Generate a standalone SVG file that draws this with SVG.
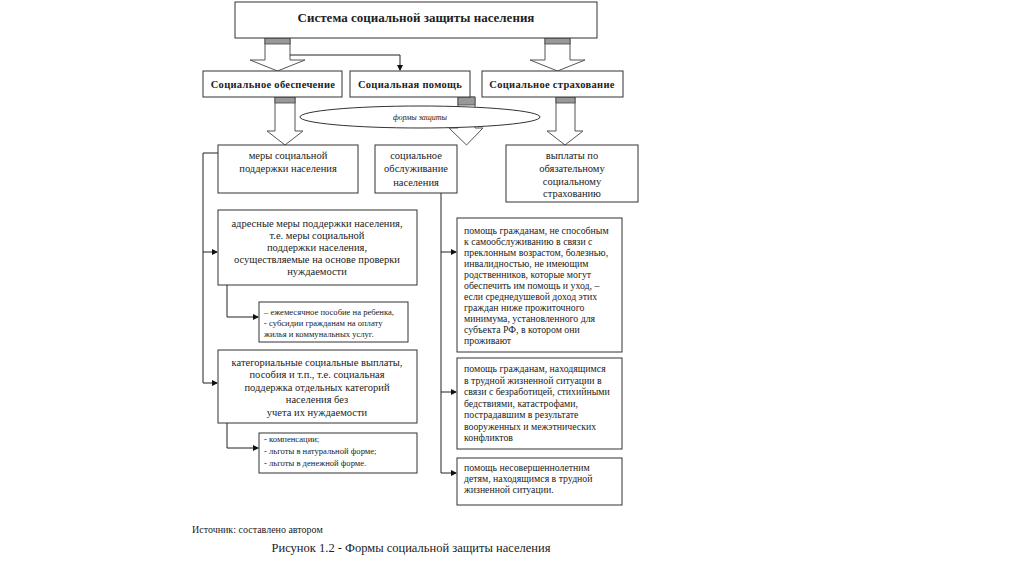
<svg xmlns="http://www.w3.org/2000/svg" width="1024" height="574" viewBox="0 0 1024 574">
<style>
.box{fill:#fff;stroke:#333;stroke-width:1}
.blk{fill:#fff;stroke:#555;stroke-width:1}
.band{fill:#999;stroke:#444;stroke-width:0.8}
.ln{fill:none;stroke:#222;stroke-width:1}
text{font-family:"Liberation Serif","Times New Roman",serif;fill:#222}
.t{font-size:13px;font-weight:bold;text-anchor:middle}
.h{font-size:10.5px;font-weight:bold;text-anchor:middle;letter-spacing:0.3px}
.m{font-size:10.5px;text-anchor:middle}
.s{font-size:8.6px}
.r{font-size:9.8px}
.e{font-size:8px;font-style:italic;text-anchor:middle}
</style>
<defs>
<marker id="ah" markerWidth="6" markerHeight="6" refX="5" refY="3" orient="auto" markerUnits="userSpaceOnUse">
<path d="M0,0 L6,3 L0,6 Z" fill="#111"/>
</marker>
</defs>
<rect width="1024" height="574" fill="#fff"/>

<g id="connectors">
<polygon class="blk" points="265,38 290,38 290,60 305,60 277.5,71 250,60 265,60"/>
<rect class="band" x="265" y="38" width="25" height="6"/>
<polygon class="blk" points="545,38 570,38 570,60 585,60 557.5,71 530,60 545,60"/>
<rect class="band" x="545" y="38" width="25" height="6"/>
<polyline class="ln" points="290,55 400,55 400,70" marker-end="url(#ah)"/>
<polygon class="blk" points="275,97 295,97 295,131 303,131 285,145 267,131 275,131"/>
<rect class="band" x="275" y="97" width="20" height="6"/>
<polygon class="blk" points="458,97 475,97 475,128 483,128 466.5,145 449,128 458,128"/>
<rect class="band" x="458" y="97" width="17" height="8"/>
<polygon class="blk" points="556,97 575,97 575,131 583,131 565,145 547,131 556,131"/>
<rect class="band" x="556" y="97" width="19" height="6"/>
<polyline class="ln" points="218,153 203,153 203,383 217,383" marker-end="url(#ah)"/>
<line class="ln" x1="203" y1="252" x2="217" y2="252" marker-end="url(#ah)"/>
<polyline class="ln" points="227,285 227,317 258,317" marker-end="url(#ah)"/>
<polyline class="ln" points="227,423 227,448 258,448" marker-end="url(#ah)"/>
<polyline class="ln" points="441,193 441,473 456,473" marker-end="url(#ah)"/>
<line class="ln" x1="441" y1="252" x2="456" y2="252" marker-end="url(#ah)"/>
<line class="ln" x1="441" y1="392" x2="456" y2="392" marker-end="url(#ah)"/>
</g>

<g id="system">
<rect class="box" x="235" y="2" width="362" height="36"/>
<text class="t" x="416" y="22">Система социальной защиты населения</text>
</g>
<g id="sotsobesp">
<rect class="box" x="203" y="71" width="139" height="26"/>
<text class="h" x="273" y="88">Социальное обеспечение</text>
</g>
<g id="sotspomosh">
<rect class="box" x="350" y="71" width="120" height="26"/>
<text class="h" x="410" y="88">Социальная помощь</text>
</g>
<g id="sotsstrakh">
<rect class="box" x="482" y="71" width="141" height="26"/>
<text class="h" x="552" y="88">Социальное страхование</text>
</g>
<g id="formy">
<ellipse cx="420" cy="117" rx="120" ry="11" fill="#fff" stroke="#333" stroke-width="1"/>
<text class="e" x="420" y="120">формы защиты</text>
</g>
<g id="mery">
<rect class="box" x="218" y="145" width="140" height="48"/>
<text class="m" x="288" y="159">меры социальной</text>
<text class="m" x="288" y="172">поддержки населения</text>
</g>
<g id="obsluzh">
<rect class="box" x="375" y="145" width="82" height="48"/>
<text class="m" x="416" y="159">социальное</text>
<text class="m" x="416" y="172">обслуживание</text>
<text class="m" x="416" y="186">населения</text>
</g>
<g id="vyplaty">
<rect class="box" x="506" y="145" width="132" height="57"/>
<text class="m" x="572" y="159">выплаты по</text>
<text class="m" x="572" y="172">обязательному</text>
<text class="m" x="572" y="185">социальному</text>
<text class="m" x="572" y="197">страхованию</text>
</g>
<g id="adresnye">
<rect class="box" x="218" y="210" width="199" height="75"/>
<text class="m" x="317" y="227">адресные меры поддержки населения,</text>
<text class="m" x="317" y="239">т.е. меры социальной</text>
<text class="m" x="317" y="251">поддержки населения,</text>
<text class="m" x="317" y="263">осуществляемые на основе проверки</text>
<text class="m" x="317" y="275">нуждаемости</text>
</g>
<g id="posobie">
<rect class="box" x="259" y="302" width="149" height="40"/>
<text class="s" x="264" y="315">–  ежемесячное пособие на ребенка,</text>
<text class="s" x="264" y="326">- субсидии гражданам на оплату</text>
<text class="s" x="264" y="337">жилья и коммунальных услуг.</text>
</g>
<g id="kategorialnye">
<rect class="box" x="218" y="350" width="199" height="73"/>
<text class="m" x="317" y="366">категориальные социальные выплаты,</text>
<text class="m" x="317" y="378">пособия и т.п., т.е. социальная</text>
<text class="m" x="317" y="391">поддержка отдельных категорий</text>
<text class="m" x="317" y="403">населения без</text>
<text class="m" x="317" y="416">учета их нуждаемости</text>
</g>
<g id="lgoty">
<rect class="box" x="259" y="433" width="158" height="40"/>
<text class="s" x="264" y="442">- компенсации;</text>
<text class="s" x="264" y="454">- льготы в натуральной форме;</text>
<text class="s" x="264" y="466">- льготы в денежной форме.</text>
</g>
<g id="pomosh1">
<rect class="box" x="457" y="218" width="165" height="134"/>
<text class="r" x="464" y="234">помощь гражданам, не способным</text>
<text class="r" x="464" y="245">к самообслуживанию в связи с</text>
<text class="r" x="464" y="256">преклонным возрастом, болезнью,</text>
<text class="r" x="464" y="267">инвалидностью, не имеющим</text>
<text class="r" x="464" y="278">родственников, которые могут</text>
<text class="r" x="464" y="289">обеспечить им помощь и уход, –</text>
<text class="r" x="464" y="300">если среднедушевой  доход этих</text>
<text class="r" x="464" y="311">граждан ниже прожиточного</text>
<text class="r" x="464" y="322">минимума,  установленного для</text>
<text class="r" x="464" y="333">субъекта РФ, в  котором они</text>
<text class="r" x="464" y="344">проживают</text>
</g>
<g id="pomosh2">
<rect class="box" x="457" y="358" width="165" height="91"/>
<text class="r" x="464" y="372">помощь гражданам, находящимся</text>
<text class="r" x="464" y="383.5">в трудной жизненной ситуации в</text>
<text class="r" x="464" y="395">связи с безработицей, стихийными</text>
<text class="r" x="464" y="406.5">бедствиями, катастрофами,</text>
<text class="r" x="464" y="418">пострадавшим в результате</text>
<text class="r" x="464" y="429.5">вооруженных и межэтнических</text>
<text class="r" x="464" y="441">конфликтов</text>
</g>
<g id="pomosh3">
<rect class="box" x="457" y="458" width="165" height="47"/>
<text class="r" x="464" y="471">помощь несовершеннолетним</text>
<text class="r" x="464" y="482">детям,  находящимся в трудной</text>
<text class="r" x="464" y="493">жизненной ситуации.</text>
</g>
<g id="caption">
<text x="192" y="533" style="font-size:10px">Источник: составлено автором</text>
<text x="411" y="552" style="font-size:12.5px;text-anchor:middle">Рисунок 1.2 - Формы социальной защиты населения</text>
</g>
</svg>
